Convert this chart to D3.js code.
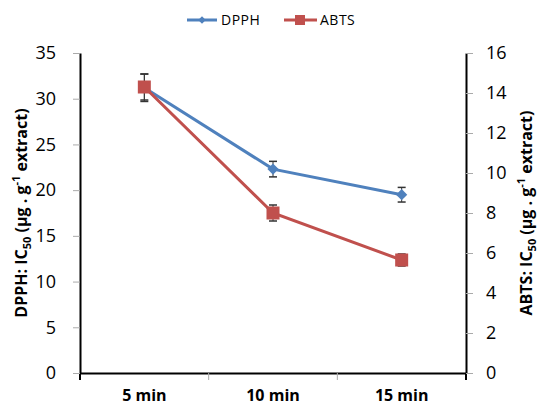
<!DOCTYPE html>
<html>
<head>
<meta charset="utf-8">
<script src="https://cdn.jsdelivr.net/npm/d3@7"></script>
<style>
body { margin: 0; background: #fff; }
svg text { font-family: "Open Sans", "DejaVu Sans", sans-serif; }
</style>
</head>
<body>
<div id="chart"></div>
<script>
const width = 541;
const height = 406;
const margin = { top: 53, right: 75, bottom: 33, left: 80 };

const categories = ['5 min', '10 min', '15 min'];
const dpph = [31.2, 22.3, 19.5];
const dpphErr = [1.5, 0.85, 0.8];
const abts = [14.3, 8.0, 5.65];
const abtsErr = [0.65, 0.4, 0.3];
const leftTicks = [0, 5, 10, 15, 20, 25, 30, 35];
const rightTicks = [0, 2, 4, 6, 8, 10, 12, 14, 16];

const blue = '#4f81bd';
const red = '#c0504d';

const svg = d3.select('#chart')
    .append('svg')
    .attr('width', width)
    .attr('height', height);

const x = d3.scaleBand()
    .domain(categories)
    .range([margin.left, width - margin.right]);

const yLeft = d3.scaleLinear()
    .domain([0, 35])
    .range([height - margin.bottom, margin.top]);

const yRight = d3.scaleLinear()
    .domain([0, 16])
    .range([height - margin.bottom, margin.top]);

const cx = d => x(d) + x.bandwidth() / 2;

// axes
const xAxis = svg.append('g')
    .attr('transform', `translate(0, ${height - margin.bottom})`)
    .call(d3.axisBottom(x).tickSize(0).tickFormat(d => d));
xAxis.select('.domain').attr('stroke', '#000').attr('stroke-width', 2);
xAxis.selectAll('text')
    .attr('dy', 0)
    .attr('y', 28)
    .style('font-size', '16px')
    .style('font-weight', 'bold')
    .attr('fill', '#000');
// category separator ticks
xAxis.selectAll('.sep')
    .data(categories.slice(1))
    .enter()
    .append('line')
    .attr('x1', d => x(d))
    .attr('x2', d => x(d))
    .attr('y1', 0)
    .attr('y2', 7)
    .attr('stroke', '#aaa');
// axis ends running below the baseline
xAxis.selectAll('.end')
    .data(x.range())
    .enter()
    .append('line')
    .attr('x1', d => d)
    .attr('x2', d => d)
    .attr('y1', 0)
    .attr('y2', 7)
    .attr('stroke', '#000')
    .attr('stroke-width', 2);

const leftAxis = svg.append('g')
    .attr('transform', `translate(${margin.left}, 0)`)
    .call(d3.axisLeft(yLeft).tickValues(leftTicks).tickSizeInner(7).tickSizeOuter(0).tickPadding(17));
leftAxis.select('.domain').attr('stroke', '#000').attr('stroke-width', 2);
leftAxis.selectAll('.tick line').attr('stroke', '#aaa');
leftAxis.selectAll('text').style('font-size', '18px').attr('fill', '#000');

const rightAxis = svg.append('g')
    .attr('transform', `translate(${width - margin.right}, 0)`)
    .call(d3.axisRight(yRight).tickValues(rightTicks).tickSizeInner(7).tickSizeOuter(0).tickPadding(13));
rightAxis.select('.domain').attr('stroke', '#000').attr('stroke-width', 2);
rightAxis.selectAll('.tick line').attr('stroke', '#aaa');
rightAxis.selectAll('text').style('font-size', '18px').attr('fill', '#000');

// axis titles
const midY = (margin.top + height - margin.bottom) / 2;
function axisTitle(xPos, label) {
    const t = svg.append('text')
        .attr('transform', `translate(${xPos}, ${midY}) rotate(-90)`)
        .attr('text-anchor', 'middle')
        .style('font-size', '16px')
        .style('font-weight', 'bold');
    t.append('tspan').text(label + ': IC');
    t.append('tspan').attr('dy', 4).style('font-size', '11px').text('50');
    t.append('tspan').attr('dy', -4).text(' (µg . g');
    t.append('tspan').attr('dy', -7).style('font-size', '11px').text('-1');
    t.append('tspan').attr('dy', 7).text(' extract)');
}
axisTitle(27, 'DPPH');
axisTitle(532, 'ABTS');

// error bars
function errorBars(values, errs, scale) {
    const g = svg.append('g');
    categories.forEach((c, i) => {
        const top = scale(values[i] + errs[i]);
        const bot = scale(values[i] - errs[i]);
        g.append('line').attr('x1', cx(c)).attr('x2', cx(c)).attr('y1', top).attr('y2', bot)
            .attr('stroke', '#333').attr('stroke-width', 1);
        [top, bot].forEach(yy => {
            g.append('line').attr('x1', cx(c) - 4).attr('x2', cx(c) + 4).attr('y1', yy).attr('y2', yy)
                .attr('stroke', '#333').attr('stroke-width', 1.5);
        });
    });
}
errorBars(dpph, dpphErr, yLeft);
errorBars(abts, abtsErr, yRight);

// lines
const dpphLine = d3.line().x((d, i) => cx(categories[i])).y(d => yLeft(d));
const abtsLine = d3.line().x((d, i) => cx(categories[i])).y(d => yRight(d));

svg.append('path')
    .datum(dpph)
    .attr('d', dpphLine)
    .attr('fill', 'none')
    .attr('stroke', blue)
    .attr('stroke-width', 3);

svg.selectAll('.diamond')
    .data(dpph)
    .enter()
    .append('path')
    .attr('class', 'diamond')
    .attr('d', d3.symbol().type(d3.symbolDiamond2).size(80))
    .attr('transform', (d, i) => `translate(${cx(categories[i])}, ${yLeft(d)})`)
    .attr('fill', blue);

svg.append('path')
    .datum(abts)
    .attr('d', abtsLine)
    .attr('fill', 'none')
    .attr('stroke', red)
    .attr('stroke-width', 3);

svg.selectAll('.square')
    .data(abts)
    .enter()
    .append('rect')
    .attr('class', 'square')
    .attr('x', (d, i) => cx(categories[i]) - 6.5)
    .attr('y', d => yRight(d) - 6.5)
    .attr('width', 13)
    .attr('height', 13)
    .attr('fill', red);

// legend
const legend = svg.append('g').attr('transform', 'translate(187, 20)');
legend.append('line').attr('x1', 0).attr('x2', 30).attr('stroke', blue).attr('stroke-width', 3);
legend.append('path')
    .attr('d', d3.symbol().type(d3.symbolDiamond2).size(35))
    .attr('transform', 'translate(15, 0)')
    .attr('fill', blue);
legend.append('text').attr('x', 34).attr('y', 5).style('font-size', '14px').style('letter-spacing', '0.5px').text('DPPH');

legend.append('line').attr('x1', 97).attr('x2', 130).attr('stroke', red).attr('stroke-width', 3);
legend.append('rect').attr('x', 108).attr('y', -5).attr('width', 10).attr('height', 10).attr('fill', red);
legend.append('text').attr('x', 133).attr('y', 5).style('font-size', '14px').style('letter-spacing', '0.5px').text('ABTS');
</script>
</body>
</html>
